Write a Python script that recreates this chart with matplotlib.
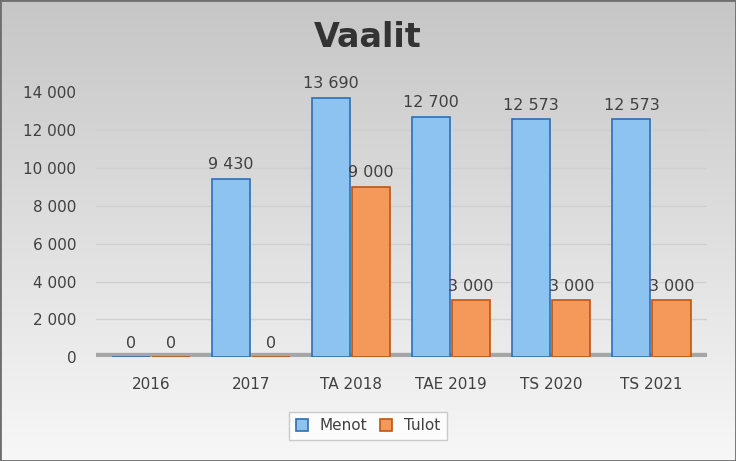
import matplotlib
matplotlib.use("Agg")
import matplotlib.pyplot as plt
import numpy as np
from matplotlib.patches import Rectangle

categories = ["2016", "2017", "TA 2018", "TAE 2019", "TS 2020", "TS 2021"]
menot = [0, 9430, 13690, 12700, 12573, 12573]
tulot = [0, 0, 9000, 3000, 3000, 3000]
yticks = [0, 2000, 4000, 6000, 8000, 10000, 12000, 14000]

def fmt(v):
    return f"{v:,.0f}".replace(",", " ")

fig = plt.figure(figsize=(7.36, 4.61), dpi=100)
bg = fig.add_axes([0, 0, 1, 1], zorder=-10)
grad = np.linspace(0.80, 1.0, 256).reshape(-1, 1)
bg.imshow(np.dstack([grad * 0.97, grad * 0.97, grad * 0.97]), aspect="auto", extent=[0, 1, 0, 1], origin="upper")
bg.add_patch(Rectangle((0, 0), 1, 1, fill=False, edgecolor="#6e6e6e", linewidth=2, transform=bg.transAxes))
bg.axis("off")

ax = fig.add_axes([0.13, 0.225, 0.83, 0.575])
ax.set_facecolor("none")
x = np.arange(len(categories))
w = 0.38
off = 0.2
ax.bar(x - off, menot, w, color="#8dc3f0", edgecolor="#2e6fb5", linewidth=1.2, label="Menot", zorder=3)
ax.bar(x + off, tulot, w, color="#f5995a", edgecolor="#c2540f", linewidth=1.2, label="Tulot", zorder=3)
for xi, m, t in zip(x, menot, tulot):
    ax.text(xi - off, m + 350, fmt(m), ha="center", va="bottom", fontsize=11.5, color="#404040")
    ax.text(xi + off, t + 350, fmt(t), ha="center", va="bottom", fontsize=11.5, color="#404040")

ax.set_ylim(0, 14000)
ax.set_xlim(-0.55, 5.55)
ax.set_yticks(yticks)
ax.set_yticklabels([fmt(v) for v in yticks], fontsize=11, color="#404040")
ax.set_xticks(x)
ax.set_xticklabels(categories, fontsize=11, color="#404040")
ax.tick_params(length=0, pad=14)
ax.grid(axis="y", color="#d0d0d0", linewidth=1, zorder=0)
for s in ax.spines.values():
    s.set_visible(False)
ax.axhline(0, color="#a6a6a6", linewidth=6, zorder=2)

fig.suptitle("Vaalit", fontsize=24, fontweight="bold", color="#333333", y=0.955)
leg = fig.legend(loc="lower center", bbox_to_anchor=(0.5, 0.03), ncol=2, fontsize=11,
                 frameon=True, facecolor="white", edgecolor="#bfbfbf", fancybox=False,
                 handlelength=0.8, handleheight=0.8, columnspacing=0.8)
for t in leg.get_texts():
    t.set_color("#404040")
fig.savefig("out.png", dpi=100)
